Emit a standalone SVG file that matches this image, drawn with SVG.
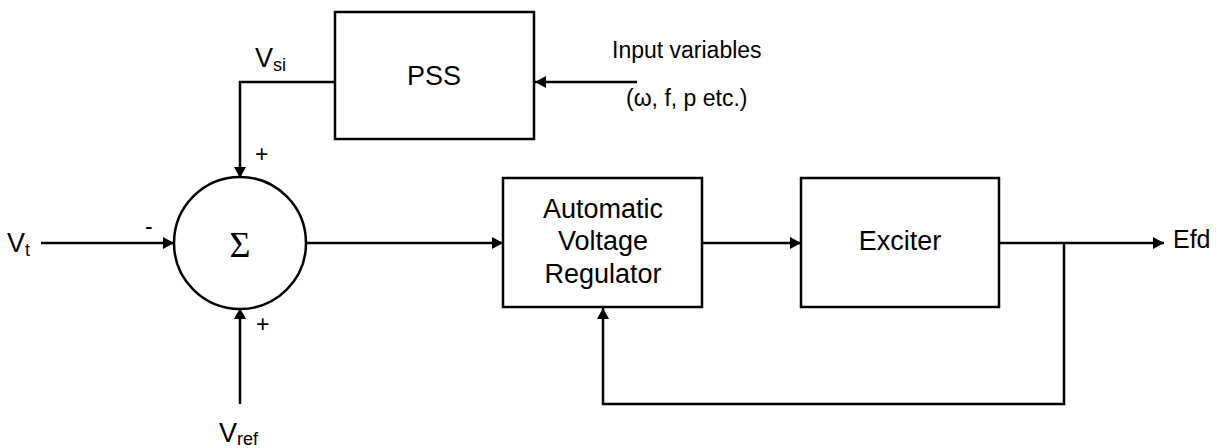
<svg xmlns="http://www.w3.org/2000/svg" width="1217" height="448" viewBox="0 0 1217 448">
<style>
.box{fill:#fff;stroke:#000;stroke-width:2.5}
.ln{fill:none;stroke:#000;stroke-width:2.5}
.t{font-family:"Liberation Sans",Arial,sans-serif;fill:#000}
.lbl{font-size:27px;text-anchor:middle}
.sg{font-size:23px}
</style>
<defs>
<marker id="ah" markerUnits="userSpaceOnUse" markerWidth="14" markerHeight="14" refX="11" refY="6" orient="auto">
<path d="M0,0 L11,6 L0,12 Z" fill="#000"/>
</marker>
</defs>
<rect width="1217" height="448" fill="#fff"/>
<g id="connectors">
<polyline class="ln" points="335,82 240,82 240,178" marker-end="url(#ah)"/>
<line class="ln" x1="41" y1="243" x2="174" y2="243" marker-end="url(#ah)"/>
<line class="ln" x1="240" y1="404" x2="240" y2="308" marker-end="url(#ah)"/>
<line class="ln" x1="637" y1="82" x2="535" y2="82" marker-end="url(#ah)"/>
<line class="ln" x1="306" y1="243" x2="503" y2="243" marker-end="url(#ah)"/>
<line class="ln" x1="702" y1="243" x2="801" y2="243" marker-end="url(#ah)"/>
<line class="ln" x1="999" y1="243" x2="1164" y2="243" marker-end="url(#ah)"/>
<polyline class="ln" points="1064,243 1064,404 603,404 603,308" marker-end="url(#ah)"/>
</g>
<g id="pss">
<rect class="box" x="335" y="12" width="199" height="127"/>
<text class="t lbl" x="434" y="85">PSS</text>
</g>
<g id="sum">
<circle class="box" cx="240" cy="243" r="66"/>
<text x="240" y="257" font-family="'Liberation Serif','DejaVu Serif',serif" font-size="36" text-anchor="middle">Σ</text>
</g>
<g id="avr">
<rect class="box" x="503" y="178" width="199" height="129"/>
<text class="t lbl" x="603" y="218">Automatic</text>
<text class="t lbl" x="603" y="250">Voltage</text>
<text class="t lbl" x="603" y="283">Regulator</text>
</g>
<g id="exciter">
<rect class="box" x="801" y="178" width="198" height="129"/>
<text class="t lbl" x="900" y="250">Exciter</text>
</g>
<g id="labels">
<text class="t" x="255" y="67" font-size="27">V<tspan font-size="18" dy="4">si</tspan></text>
<text class="t" x="7" y="252" font-size="27">V<tspan font-size="18" dy="4">t</tspan></text>
<text class="t" x="219" y="442" font-size="27">V<tspan font-size="18" dy="3">ref</tspan></text>
<text class="t" x="1173" y="248" font-size="25">Efd</text>
<text class="t" x="612" y="58" font-size="23">Input variables</text>
<text class="t" x="626" y="106" font-size="23">(ω, f, p etc.)</text>
<text class="t sg" x="255" y="162">+</text>
<text class="t sg" x="256" y="332">+</text>
<text class="t sg" x="145" y="234">-</text>
</g>
</svg>
